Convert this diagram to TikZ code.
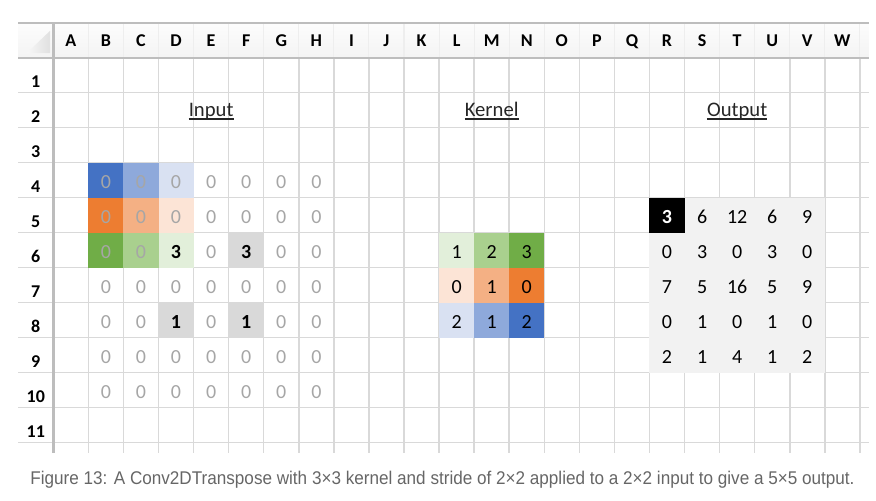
\documentclass[tikz,border=0pt]{standalone}
\usepackage{fontspec}
\setmainfont{Carlito}
\newfontfamily\capfont{Liberation Sans}
\usepackage{graphicx}
\usetikzlibrary{positioning}
\definecolor{blueD}{HTML}{4472C4}
\definecolor{blueM}{HTML}{8EA9DB}
\definecolor{blueL}{HTML}{D9E1F2}
\definecolor{orangeD}{HTML}{ED7D31}
\definecolor{orangeM}{HTML}{F4B084}
\definecolor{orangeL}{HTML}{FCE4D6}
\definecolor{greenD}{HTML}{70AD47}
\definecolor{greenM}{HTML}{A9D08E}
\definecolor{greenL}{HTML}{E2EFDA}
\definecolor{gridline}{HTML}{D9D9D9}
\definecolor{headline}{HTML}{BDBDBD}
\definecolor{zerotxt}{HTML}{A6A6A6}
\definecolor{outbg}{HTML}{F2F2F2}
\definecolor{hilite}{HTML}{D9D9D9}
\definecolor{captxt}{HTML}{666666}
\tikzset{
  cell/.style={anchor=base, inner sep=0pt, font=\fontsize{15}{15}\selectfont},
  zero/.style={cell, text=zerotxt},
  hdr/.style={anchor=base, inner sep=0pt, font=\fontsize{13.5}{13.5}\selectfont\bfseries},
  title/.style={anchor=base, inner sep=0pt, font=\fontsize{15.5}{15.5}\selectfont, text=black!85}
}

\begin{document}
\begin{tikzpicture}[x=26.3pt, y=-26.25pt]
      \useasboundingbox (-1.520,-1.649) rectangle (23.459,12.637);
      \shade[top color=gray!2, bottom color=gray!9] (-1,-1) rectangle (23.25,0);
      \shade[left color=gray!6, right color=gray!24] (-0.76,-0.13) -- (-0.09,-0.13) -- (-0.09,-0.77) -- cycle;
      \foreach \c in {1,...,23}
        \draw[gray!13, line width=0.8pt] (\c,-1) -- (\c,0);
      \foreach \r in {1,...,11}
        \draw[gridline, line width=1.1pt] (-1,\r) -- (23.25,\r);
      \foreach \c in {1,...,23}
        \draw[gridline, line width=1.1pt] (\c,0) -- (\c,11.29);
      \draw[headline, line width=1.8pt] (-1,-1) -- (23.25,-1);
      \draw[headline, line width=1.8pt] (-1,0) -- (23.25,0);
      \draw[headline, line width=1.8pt] (0,-1) -- (0,11.29);
      \foreach \l [count=\c] in {A,...,W}
        \node[hdr] (col\l) at (\c-0.5,-0.31) {\l};
      \foreach \r in {1,...,11}
        \node[hdr] (row\r) at (-0.5,\r-0.14) {\r};
      \foreach \x/\t/\n in {4.5/Input/intitle, 12.5/Kernel/kertitle, 19.5/Output/outtitle}
        {
          \node[title] (\n) at (\x,1.686) {\t};
          \draw[black!85, line width=1pt] ([yshift=-1.6pt]\n.base west) -- ([yshift=-1.6pt]\n.base east);
        }
      \foreach \x/\y/\col in {1/3/blueD, 2/3/blueM, 3/3/blueL, 1/4/orangeD, 2/4/orangeM, 3/4/orangeL,
                              1/5/greenD, 2/5/greenM, 3/5/greenL, 5/5/hilite, 3/7/hilite, 5/7/hilite,
                              11/5/greenL, 12/5/greenM, 13/5/greenD, 11/6/orangeL, 12/6/orangeM, 13/6/orangeD,
                              11/7/blueL, 12/7/blueM, 13/7/blueD}
        \fill[\col] (\x,\y) rectangle ++(1,1);
      \fill[outbg] (17,4) rectangle (22,9);
      \fill[black] (17,4) rectangle (18,5);
      \foreach \r/\vals in {4/{0,0,0,0,0,0,0}, 5/{0,0,0,0,0,0,0}, 6/{0,0,3,0,3,0,0}, 7/{0,0,0,0,0,0,0},
                            8/{0,0,1,0,1,0,0}, 9/{0,0,0,0,0,0,0}, 10/{0,0,0,0,0,0,0}}
        \foreach \v [count=\c] in \vals
          {
            \ifnum\v=0
              \node[zero] (in-\r-\c) at (\c+0.5,\r-0.27) {\v};
            \else
              \node[cell, font=\fontsize{15}{15}\selectfont\bfseries] (in-\r-\c) at (\c+0.5,\r-0.27) {\v};
            \fi
          }
      \foreach \r/\vals in {6/{1,2,3}, 7/{0,1,0}, 8/{2,1,2}}
        \foreach \v [count=\c] in \vals
          \node[cell] (ker-\r-\c) at (\c+10.5,\r-0.27) {\v};
      \foreach \r/\vals in {5/{3,6,12,6,9}, 6/{0,3,0,3,0}, 7/{7,5,16,5,9}, 8/{0,1,0,1,0}, 9/{2,1,4,1,2}}
        \foreach \v [count=\c] in \vals
          {
            \ifnum\r\c=51
              \node[cell, text=white, font=\fontsize{15}{15}\selectfont\bfseries] (out-\r-\c) at (\c+16.5,\r-0.27) {\v};
            \else
              \node[cell] (out-\r-\c) at (\c+16.5,\r-0.27) {\v};
            \fi
          }
      \node[anchor=base, inner sep=0pt, text=captxt] (caption) at (11.098,12.18)
        {\resizebox{618pt}{10pt}{\capfont Figure 13: A Conv2DTranspose with 3×3 kernel and stride of 2×2 applied to a 2×2 input to give a 5×5 output.}};
    \end{tikzpicture}
\end{document}
